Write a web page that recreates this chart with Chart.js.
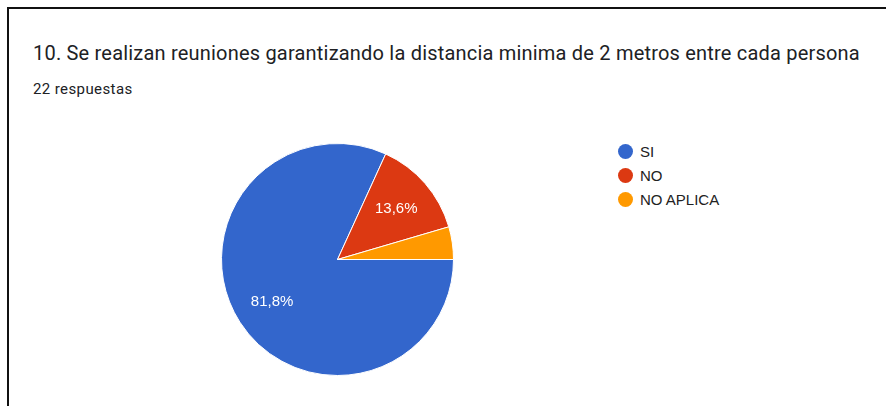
<!DOCTYPE html>
<html>
<head>
<meta charset="utf-8">
<script src="https://cdn.jsdelivr.net/npm/chart.js@4.4.0/dist/chart.umd.min.js"></script>
<style>
  html, body { margin: 0; padding: 0; background: #fff; }
  body { width: 886px; height: 406px; position: relative; overflow: hidden; }
  .frame { position: absolute; left: 7px; top: 7px; right: -10px; bottom: -10px; border-top: 2px solid #111; border-left: 2px solid #111; }
  .title { position: absolute; left: 33px; top: 43px; font: 20px/20px Roboto, Arial, sans-serif; letter-spacing: 0.2px; color: #202124; white-space: nowrap; }
  .sub { position: absolute; left: 33px; top: 82px; font: 15px/15px Roboto, Arial, sans-serif; letter-spacing: 0.4px; color: #202124; }
  #wrap { position: absolute; left: 221px; top: 143px; width: 233px; height: 233px; }
  #legend { position: absolute; left: 618px; top: 144px; font: 15px/15px "Liberation Sans", Arial, sans-serif; color: #222; }
  #legend .row { display: flex; align-items: center; height: 14px; margin-bottom: 10px; }
  #legend .dot { width: 15px; height: 15px; border-radius: 50%; margin-right: 7px; }
</style>
</head>
<body>
<div class="frame"></div>
<div class="title">10. Se realizan reuniones garantizando la distancia minima de 2 metros entre cada persona</div>
<div class="sub">22 respuestas</div>
<div id="wrap"><canvas id="pie"></canvas></div>
<div id="legend"></div>
<script>
const categorias = ['SI', 'NO', 'NO APLICA'];
const respuestas = [18, 3, 1];
const cores = ['#3366cc', '#dc3912', '#ff9900'];

const total = respuestas.reduce((a, b) => a + b, 0);

// legenda em HTML
const legend = document.getElementById('legend');
categorias.forEach((nome, i) => {
  const row = document.createElement('div');
  row.className = 'row';
  row.innerHTML = `<span class="dot" style="background:${cores[i]}"></span><span>${nome}</span>`;
  legend.appendChild(row);
});

// rótulos de porcentagem dentro das fatias
const pctLabels = {
  id: 'pctLabels',
  afterDatasetsDraw(chart) {
    const ctx = chart.ctx;
    const meta = chart.getDatasetMeta(0);
    ctx.save();
    ctx.fillStyle = '#fff';
    ctx.font = '15px "Liberation Sans", Arial, sans-serif';
    ctx.textAlign = 'center';
    ctx.textBaseline = 'middle';
    meta.data.forEach((arc, i) => {
      const frac = respuestas[i] / total;
      if (frac < 0.05) return; // fatia pequena fica sem rótulo
      const mid = (arc.startAngle + arc.endAngle) / 2;
      const r = arc.outerRadius * 0.67;
      const x = arc.x + Math.cos(mid) * r;
      const y = arc.y + Math.sin(mid) * r;
      ctx.fillText((frac * 100).toFixed(1).replace('.', ',') + '%', x, y);
    });
    ctx.restore();
  }
};

new Chart(document.getElementById('pie'), {
  type: 'pie',
  data: {
    labels: categorias,
    datasets: [{
      data: respuestas,
      backgroundColor: cores,
      borderColor: '#fff',
      borderWidth: 1
    }]
  },
  options: {
    responsive: true,
    maintainAspectRatio: false,
    animation: false,
    rotation: 90,
    plugins: {
      legend: { display: false },
      tooltip: { enabled: false }
    }
  },
  plugins: [pctLabels]
});
</script>
</body>
</html>
